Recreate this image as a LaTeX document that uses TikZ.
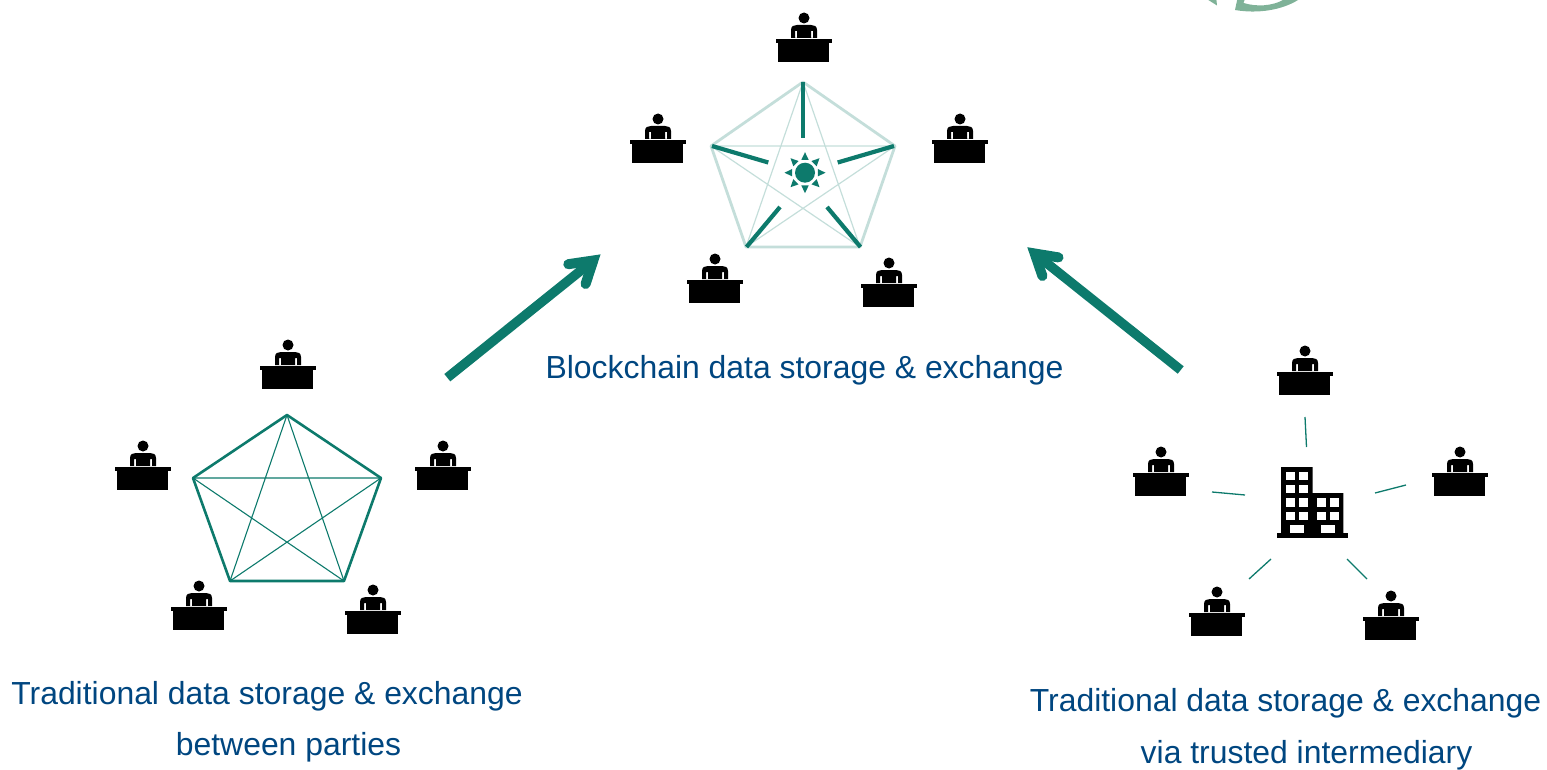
\documentclass[tikz,border=0pt]{standalone}
\usepackage{fontspec}
\setmainfont{Liberation Sans}
\definecolor{teal1}{HTML}{0D7A6C}
\definecolor{teallight}{HTML}{C4DEDA}
\definecolor{navy}{HTML}{004680}
\definecolor{leaf}{HTML}{7FB298}
\tikzset{
  lbl/.style={text=navy,font=\fontsize{31.9}{32}\selectfont,inner sep=0pt,anchor=base},
  thick edge/.style={draw=teal1,line width=2.6},
  thin edge/.style={draw=teal1,line width=1.1},
  pale thick/.style={draw=teallight,line width=2.8},
  pale thin/.style={draw=teallight,line width=1.2},
  spoke/.style={draw=teal1,line width=4.2},
  thin spoke/.style={draw=teal1,line width=1.3},
  big arrow/.style={draw=teal1,line width=9.5},
  arrow head/.style={draw=teal1,line width=10,line cap=round,miter limit=10},
  desk/.pic={
    \fill[black] (0,-21) circle (5.5);
    \fill[black,even odd rule] (-13,-1) -- (-13,-9) .. controls (-13,-13) and (-10,-14) .. (-7,-14) -- (7,-14) .. controls (10,-14) and (13,-13) .. (13,-9) -- (13,-1) -- cycle
      (-9,-1) -- (-9,-8) -- (-7,-8) -- (-7,-1) -- cycle
      (9,-1) -- (9,-8) -- (7,-8) -- (7,-1) -- cycle;
    \fill[black] (-28.2,0) rectangle (27.8,4.2);
    \fill[black] (-25.6,4) rectangle (25.3,23);
  }
}
\begin{document}
\begin{tikzpicture}[x=1pt,y=-1pt]
\useasboundingbox (0,0) rectangle (1547,770);
% top-right cropped emblem
\begin{scope}
\clip (0,0) rectangle (1547,770);
\fill[leaf] (1202,-4) -- (1216,-4) -- (1217,5.5) -- cycle;
\fill[leaf] (1238,-4) -- (1246,-4) -- (1243.5,3) .. controls (1257,7) and (1272,6) .. (1283,0) -- (1290,-4) -- (1303,-4) -- (1298,0) .. controls (1282,10) and (1258,14) .. (1235,10) -- cycle;
\end{scope}
% desks
\foreach \n/\x/\y in {la/288/366,lb/443/467,lc/373/611,ld/199/607,le/143/467,
                      ca/804/39,cb/960/140,cc/889/284,cd/715/280,ce/658/140,
                      ra/1305/372,rb/1460/473,rc/1391/617,rd/1217/613,re/1161/473}
  \pic (\n) at (\x,\y) {desk};
% left pentagon
\coordinate (La) at (287,415); \coordinate (Lb) at (381,478); \coordinate (Lc) at (344,581);
\coordinate (Ld) at (230,581); \coordinate (Le) at (193,478);
\draw[thick edge,line join=round] (La) -- (Lb) -- (Lc) -- (Ld) -- (Le) -- cycle;
\draw[thin edge] (La) -- (Lc) (La) -- (Ld) (Lb) -- (Ld) (Lb) -- (Le) (Lc) -- (Le);
% centre pentagon
\coordinate (Ca) at (803,82); \coordinate (Cb) at (895,146); \coordinate (Cc) at (860,247);
\coordinate (Cd) at (746,247); \coordinate (Ce) at (711,146);
\draw[pale thick,line join=round] (Ca) -- (Cb) -- (Cc) -- (Cd) -- (Ce) -- cycle;
\draw[pale thin] (Ca) -- (Cc) (Ca) -- (Cd) (Cb) -- (Cd) (Cb) -- (Ce) (Cc) -- (Ce);
\coordinate (Sa) at (803,138); \coordinate (Sb) at (837.7,162.5); \coordinate (Sc) at (827,207);
\coordinate (Sd) at (780,207); \coordinate (Se) at (768.3,162.5);
\coordinate (Pb) at (894,146); \coordinate (Pc) at (860.5,247);
\coordinate (Pd) at (746.5,247); \coordinate (Pe) at (712,146);
\draw[spoke] (Ca) -- (Sa);
\draw[spoke] (Pb) -- (Sb);
\draw[spoke] (Pc) -- (Sc);
\draw[spoke] (Pd) -- (Sd);
\draw[spoke] (Pe) -- (Se);
% sun
\node[circle,fill=teal1,minimum size=20,inner sep=0pt] (sun) at (805,172.7) {};
\foreach \ang in {0,45,...,315}
  \fill[teal1,shift={(805,172.7)},rotate=\ang] (12.8,-3.7) -- (12.8,3.7) -- (20.5,0) -- cycle;
% building
\fill[black] (1281,467) -- (1312.7,467) -- (1312.7,493) -- (1343.3,493) -- (1343.3,533) -- (1281,533) -- cycle;
\fill[black] (1277,533) rectangle (1348,538);
\foreach \xx in {1285.8,1299.1}\foreach \yy in {471.5,484.5,498.1,511.5}
  \fill[white] (\xx,\yy) rectangle ++(9.1,8.9);
\foreach \xx in {1317.1,1330.1}\foreach \yy in {498.1,511.5}
  \fill[white] (\xx,\yy) rectangle ++(9.1,8.9);
\fill[white] (1290,524.7) rectangle (1304,533.3);
\fill[white] (1321.4,524.7) rectangle (1335.3,533.3);
% right spokes
\coordinate (Ra1) at (1305,417); \coordinate (Ra2) at (1306.5,447);
\coordinate (Rb1) at (1406,485); \coordinate (Rb2) at (1375,493);
\coordinate (Rc1) at (1367,579); \coordinate (Rc2) at (1347,559);
\coordinate (Rd1) at (1249,579); \coordinate (Rd2) at (1271,559);
\coordinate (Re1) at (1212,492); \coordinate (Re2) at (1245,495);
\foreach \k in {a,b,c,d,e} \draw[thin spoke] (R\k1) -- (R\k2);
% big arrows
\coordinate (A1) at (447.3,377.7); \coordinate (A2) at (593.3,260.5);
\coordinate (A1p) at (568.3,264.2); \coordinate (A1q) at (585.6,284);
\draw[big arrow] (A1) -- (A2);
\draw[arrow head] (A1p) -- (A2) -- (A1q);
\coordinate (B1) at (1180.7,370); \coordinate (B2) at (1034.7,253.5);
\coordinate (B1p) at (1058.5,257.4); \coordinate (B1q) at (1042.4,276);
\draw[big arrow] (B1) -- (B2);
\draw[arrow head] (B1p) -- (B2) -- (B1q);
% labels
\node[lbl] (t1) at (804.5,378) {Blockchain data storage \& exchange};
\node[lbl] (t2) at (267,704.3) {Traditional data storage \& exchange};
\node[lbl] (t3) at (288.5,755.3) {between parties};
\node[lbl] (t4) at (1285.5,711.3) {Traditional data storage \& exchange};
\node[lbl] (t5) at (1306.5,763.3) {via trusted intermediary};
\end{tikzpicture}
\end{document}
